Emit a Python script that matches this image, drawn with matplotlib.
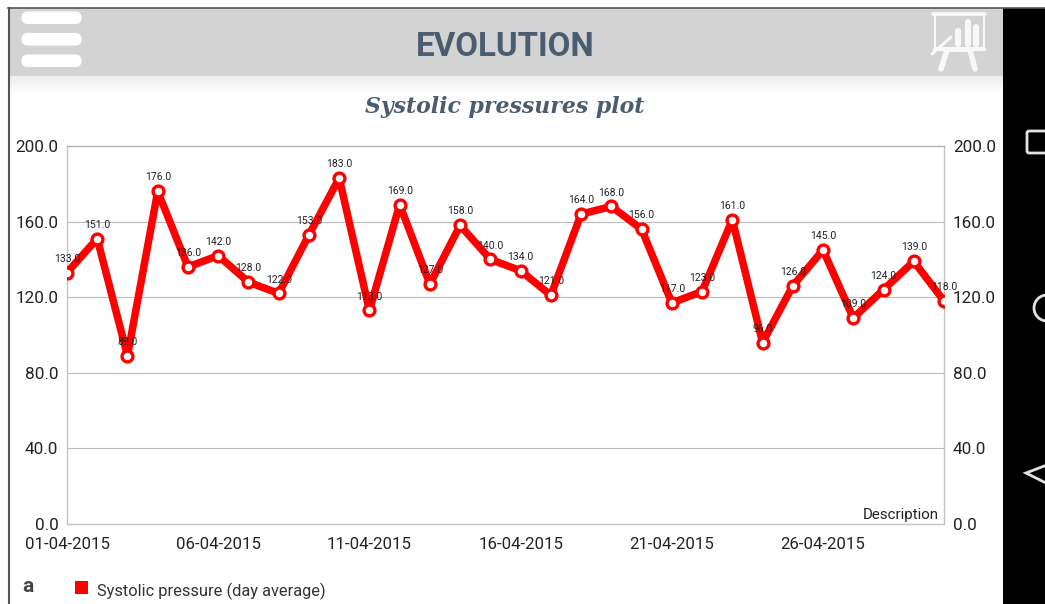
#!/usr/bin/env python
# systolic pressure evolution screen
import numpy as np
import matplotlib
matplotlib.use('Agg')
import matplotlib.pyplot as plt
from matplotlib.patches import FancyBboxPatch, Rectangle, Circle, Polygon

matplotlib.rcParams.update({'font.family': ['Roboto', 'DejaVu Sans']})

values = [133, 151, 89, 176, 136, 142, 128, 122, 153, 183,
          113, 169, 127, 158, 140, 134, 121, 164, 168, 156,
          117, 123, 161, 96, 126, 145, 109, 124, 139, 118]
day_labels = ['01-04-2015', '06-04-2015', '11-04-2015', '16-04-2015',
              '21-04-2015', '26-04-2015']
day_ticks = [0, 5, 10, 15, 20, 25]
y_ticks = [0, 40, 80, 120, 160, 200]

W, H = 1045, 604
fig = plt.figure(figsize=(W / 100, H / 100), dpi=100, facecolor='white')

# screen furniture, drawn in pixel coords
bg = fig.add_axes([0, 0, 1, 1])
bg.set_xlim(0, W)
bg.set_ylim(H, 0)
bg.axis('off')
bg.add_patch(Rectangle((9, 8), 994, 68, fc='#d3d3d3', ec='none'))
grad = np.linspace(0.93, 1, 20).reshape(-1, 1)
bg.imshow(grad, extent=(9, 1003, 96, 76), cmap='gray', vmin=0, vmax=1,
          aspect='auto', zorder=1)
bg.set_xlim(0, W)
bg.set_ylim(H, 0)
bg.add_patch(Rectangle((1003, 8), 42, H, fc='black', ec='none', zorder=2))
bg.plot([8.5, 8.5], [8, H], color='#555555', lw=1.5, zorder=3)
bg.plot([8, W], [7.8, 7.8], color='#555555', lw=1.2, zorder=3)

# menu button
for y in (12, 33.5, 55):
    bg.add_patch(FancyBboxPatch((27, y + 5), 49, 1.5, boxstyle='round,pad=0,rounding_size=0',
                                fc='white', ec='white', lw=8, capstyle='round', joinstyle='round', zorder=3))

# presentation icon
ic = dict(color='#f8f8f8', solid_capstyle='round', zorder=3)
bg.plot([933, 985], [14, 14], lw=2.6, **ic)
bg.plot([934.5, 934.5, 984, 984, 948], [14, 48, 48, 14, 14], lw=1.5, **ic)
bg.plot([934, 984], [48.5, 48.5], lw=2.4, **ic)
bg.plot([932, 951], [54, 37], lw=2.2, **ic)
bg.plot([947, 941], [50, 69], lw=4.0, **ic)
bg.plot([970, 975], [50, 69], lw=4.0, **ic)
bg.plot([947, 971], [50, 50], lw=2.8, **ic)
for x, top in ((958, 31), (967.5, 22), (976, 27)):
    bg.plot([x, x], [top, 44], lw=4.4, **ic)

# android nav buttons
nav = '#e2e2e2'
bg.add_patch(FancyBboxPatch((1027, 131), 30, 22, boxstyle='round,pad=0,rounding_size=2',
                            fc='none', ec=nav, lw=2, zorder=3))
bg.add_patch(Circle((1047, 308), 13, fc='none', ec=nav, lw=2, zorder=3))
bg.add_patch(Polygon([[1060, 460], [1026, 473], [1060, 490]], closed=True,
                     fc='none', ec=nav, lw=2, zorder=3))

bg.text(505.5, 47, 'EVOLUTION', fontsize=23.9, fontweight='bold', color='#4a5d70',
        ha='center', va='center', zorder=3)
bg.text(505, 107, 'Systolic pressures plot', fontsize=15.8, fontweight='bold', style='italic',
        family=['DejaVu Serif'], color='#4a5d70', ha='center', va='center', zorder=3)
bg.text(27.5, 587, 'a', fontsize=15, fontweight='bold', color='#444444',
        ha='center', va='center', zorder=3)
bg.add_patch(Rectangle((75, 581), 13, 13, fc='red', ec='none', zorder=3))
bg.text(97, 591, 'Systolic pressure (day average)', fontsize=11.8, color='#333333',
        ha='left', va='center', zorder=3)

# the chart
ax = fig.add_axes([67 / W, 1 - 524 / H, 877 / W, 378 / H])
ax.patch.set_alpha(0)
x = np.arange(len(values))
ax.plot(x, values, color='red', lw=5.4, marker='o', ms=7.8, mfc='white', mec='red', mew=2.4,
        solid_joinstyle='round', zorder=3)
for xi, v in zip(x, values):
    ax.annotate('%.1f' % v, (xi, v), xytext=(0, 10), textcoords='offset points',
                fontsize=7.5, color='#222222', ha='center', va='center',
                annotation_clip=False, zorder=4)

ax.set_xlim(0, len(values) - 1)
ax.set_ylim(0, 200)
ax.set_yticks(y_ticks)
ax.set_yticklabels(['%.1f' % t for t in y_ticks])
ax.set_xticks(day_ticks)
ax.set_xticklabels(day_labels)
ax.grid(axis='y', color='#bcbcbc', lw=0.8)
ax.set_axisbelow(True)
ax.tick_params(axis='y', length=0, pad=6.3, labelsize=12.3, labelcolor='#222222')
ax.tick_params(axis='x', length=0, pad=9.5, labelsize=12.1, labelcolor='#222222')
for s in ax.spines.values():
    s.set_color('#c4c4c4')
    s.set_linewidth(1.0)
ax.spines['top'].set_color('#b4b4b4')

ax2 = ax.twinx()
ax2.set_ylim(0, 200)
ax2.set_yticks(y_ticks)
ax2.set_yticklabels(['%.1f' % t for t in y_ticks])
ax2.tick_params(axis='y', length=0, pad=6.3, labelsize=12.3, labelcolor='#222222')
for s in ax2.spines.values():
    s.set_visible(False)

ax.text(0.9945, 0.025, 'Description', transform=ax.transAxes, fontsize=10.9,
        color='#222222', ha='right', va='center', zorder=5)

fig.savefig('out.png', dpi=100)
